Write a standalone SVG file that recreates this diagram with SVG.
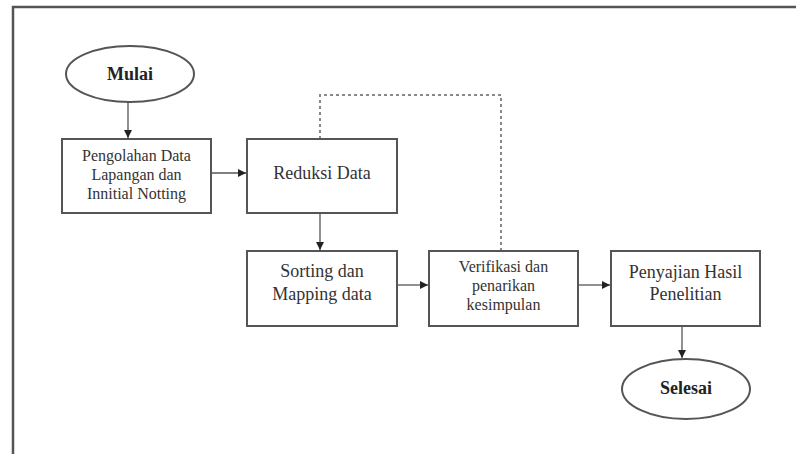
<svg xmlns="http://www.w3.org/2000/svg" width="796" height="454" viewBox="0 0 796 454">
<style>
.box{fill:#fff;stroke:#555;stroke-width:2}
.ln{fill:none;stroke:#555;stroke-width:1.3}
.dash{fill:none;stroke:#888;stroke-width:2;stroke-dasharray:3 3}
.t{font-family:"Liberation Serif","Times New Roman",serif;fill:#333;text-anchor:middle}
.s16{font-size:16px}
.s18{font-size:18px}
.b{font-weight:bold;font-size:18px;fill:#222}
</style>
<defs>
<marker id="ah" viewBox="0 0 10 10" refX="10" refY="5" markerWidth="8" markerHeight="8" markerUnits="userSpaceOnUse" orient="auto">
<path d="M0,0 L10,5 L0,10 Z" fill="#222"/>
</marker>
</defs>
<rect width="796" height="454" fill="#fff"/>
<path d="M13,454 V7 H796" fill="none" stroke="#555" stroke-width="2.5"/>
<g id="connectors">
<line class="ln" x1="128" y1="102" x2="128" y2="138" marker-end="url(#ah)"/>
<line class="ln" x1="211" y1="173" x2="246" y2="173" marker-end="url(#ah)"/>
<line class="ln" x1="320" y1="213" x2="320" y2="250" marker-end="url(#ah)"/>
<line class="ln" x1="397" y1="285" x2="428" y2="285" marker-end="url(#ah)"/>
<line class="ln" x1="578" y1="285" x2="610" y2="285" marker-end="url(#ah)"/>
<line class="ln" x1="682" y1="326" x2="682" y2="358" marker-end="url(#ah)"/>
<path class="dash" d="M320,139 V95 H501 V251"/>
</g>
<g id="mulai">
<ellipse class="box" cx="130" cy="74" rx="64" ry="28"/>
<text class="t b" x="130" y="80">Mulai</text>
</g>
<g id="pengolahan">
<rect class="box" x="62" y="139" width="149" height="74"/>
<text class="t s16" x="136.5" y="161">Pengolahan Data</text>
<text class="t s16" x="136.5" y="180">Lapangan dan</text>
<text class="t s16" x="136.5" y="199">Innitial Notting</text>
</g>
<g id="reduksi">
<rect class="box" x="247" y="139" width="150" height="74"/>
<text class="t s18" x="322" y="179">Reduksi Data</text>
</g>
<g id="sorting">
<rect class="box" x="247" y="251" width="150" height="75"/>
<text class="t s18" x="322" y="277">Sorting dan</text>
<text class="t s18" x="322" y="300">Mapping data</text>
</g>
<g id="verifikasi">
<rect class="box" x="429" y="251" width="149" height="75"/>
<text class="t s16" x="503.5" y="272">Verifikasi dan</text>
<text class="t s16" x="503.5" y="291">penarikan</text>
<text class="t s16" x="503.5" y="310">kesimpulan</text>
</g>
<g id="penyajian">
<rect class="box" x="611" y="251" width="149" height="75"/>
<text class="t s18" x="685.5" y="278">Penyajian Hasil</text>
<text class="t s18" x="685.5" y="300">Penelitian</text>
</g>
<g id="selesai">
<ellipse class="box" cx="686" cy="389" rx="64" ry="30"/>
<text class="t b" x="686" y="394">Selesai</text>
</g>
</svg>
